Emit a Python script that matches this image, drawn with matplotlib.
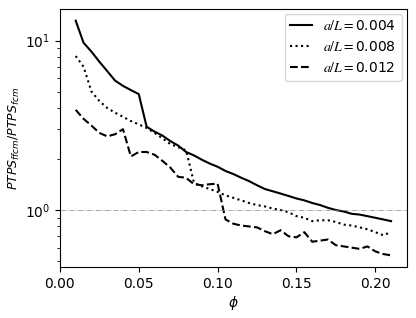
import numpy as np
import matplotlib
matplotlib.use("Agg")
import matplotlib.pyplot as plt
from matplotlib.font_manager import FontProperties

# volume fraction grid
phi = np.round(np.arange(0.01, 0.2101, 0.005), 3)

# PTPS ratio for each crack size a/L
ratio_004 = [13.1, 9.7, 8.6, 7.5, 6.6, 5.8, 5.4, 5.1, 4.83, 3.1,
             2.9, 2.75, 2.55, 2.4, 2.2, 2.1, 1.98, 1.88, 1.8, 1.7,
             1.63, 1.55, 1.48, 1.4, 1.33, 1.29, 1.25, 1.21, 1.17, 1.14,
             1.1, 1.07, 1.03, 1.0, 0.98, 0.95, 0.94, 0.92, 0.9, 0.88, 0.86]
ratio_008 = [8.1, 7.0, 5.0, 4.4, 4.0, 3.75, 3.55, 3.35, 3.2, 3.05,
             2.85, 2.65, 2.45, 2.35, 2.25, 1.45, 1.38, 1.33, 1.28, 1.22,
             1.18, 1.14, 1.1, 1.07, 1.05, 1.02, 1.0, 0.97, 0.92, 0.9,
             0.86, 0.87, 0.87, 0.85, 0.82, 0.81, 0.79, 0.77, 0.74, 0.71, 0.74]
ratio_012 = [3.9, 3.45, 3.15, 2.85, 2.72, 2.8, 3.0, 2.07, 2.2, 2.2,
             2.12, 1.95, 1.78, 1.57, 1.55, 1.42, 1.4, 1.42, 1.43, 0.88,
             0.83, 0.81, 0.8, 0.79, 0.75, 0.72, 0.76, 0.7, 0.69, 0.74,
             0.65, 0.66, 0.67, 0.62, 0.61, 0.6, 0.59, 0.61, 0.57, 0.55, 0.54]

labels = [r'$a/L=$0.004', r'$a/L=$0.008', r'$a/L=$0.012']
styles = ['-', ':', '--']

fig = plt.figure(figsize=(4.16, 3.18), dpi=100)
ax = fig.add_axes([0.144, 0.160, 0.834, 0.812])

for y, lab, ls in zip([ratio_004, ratio_008, ratio_012], labels, styles):
    ax.plot(phi, y, color='k', linestyle=ls, linewidth=1.5, label=lab)

ax.axhline(1.0, color='gray', linestyle='-.', linewidth=0.6, alpha=0.8)
ax.set_yscale('log')
ax.set_xlabel(r'$\phi$', labelpad=2)
ax.set_ylabel(r'$PTPS_{ffcm}/PTPS_{fcm}$', fontsize=9, labelpad=2)
ax.legend(loc='upper right', handlelength=1.6, borderaxespad=0.35,
          prop=FontProperties(size=10, math_fontfamily='stix'))

fig.savefig('out.png', dpi=100)
